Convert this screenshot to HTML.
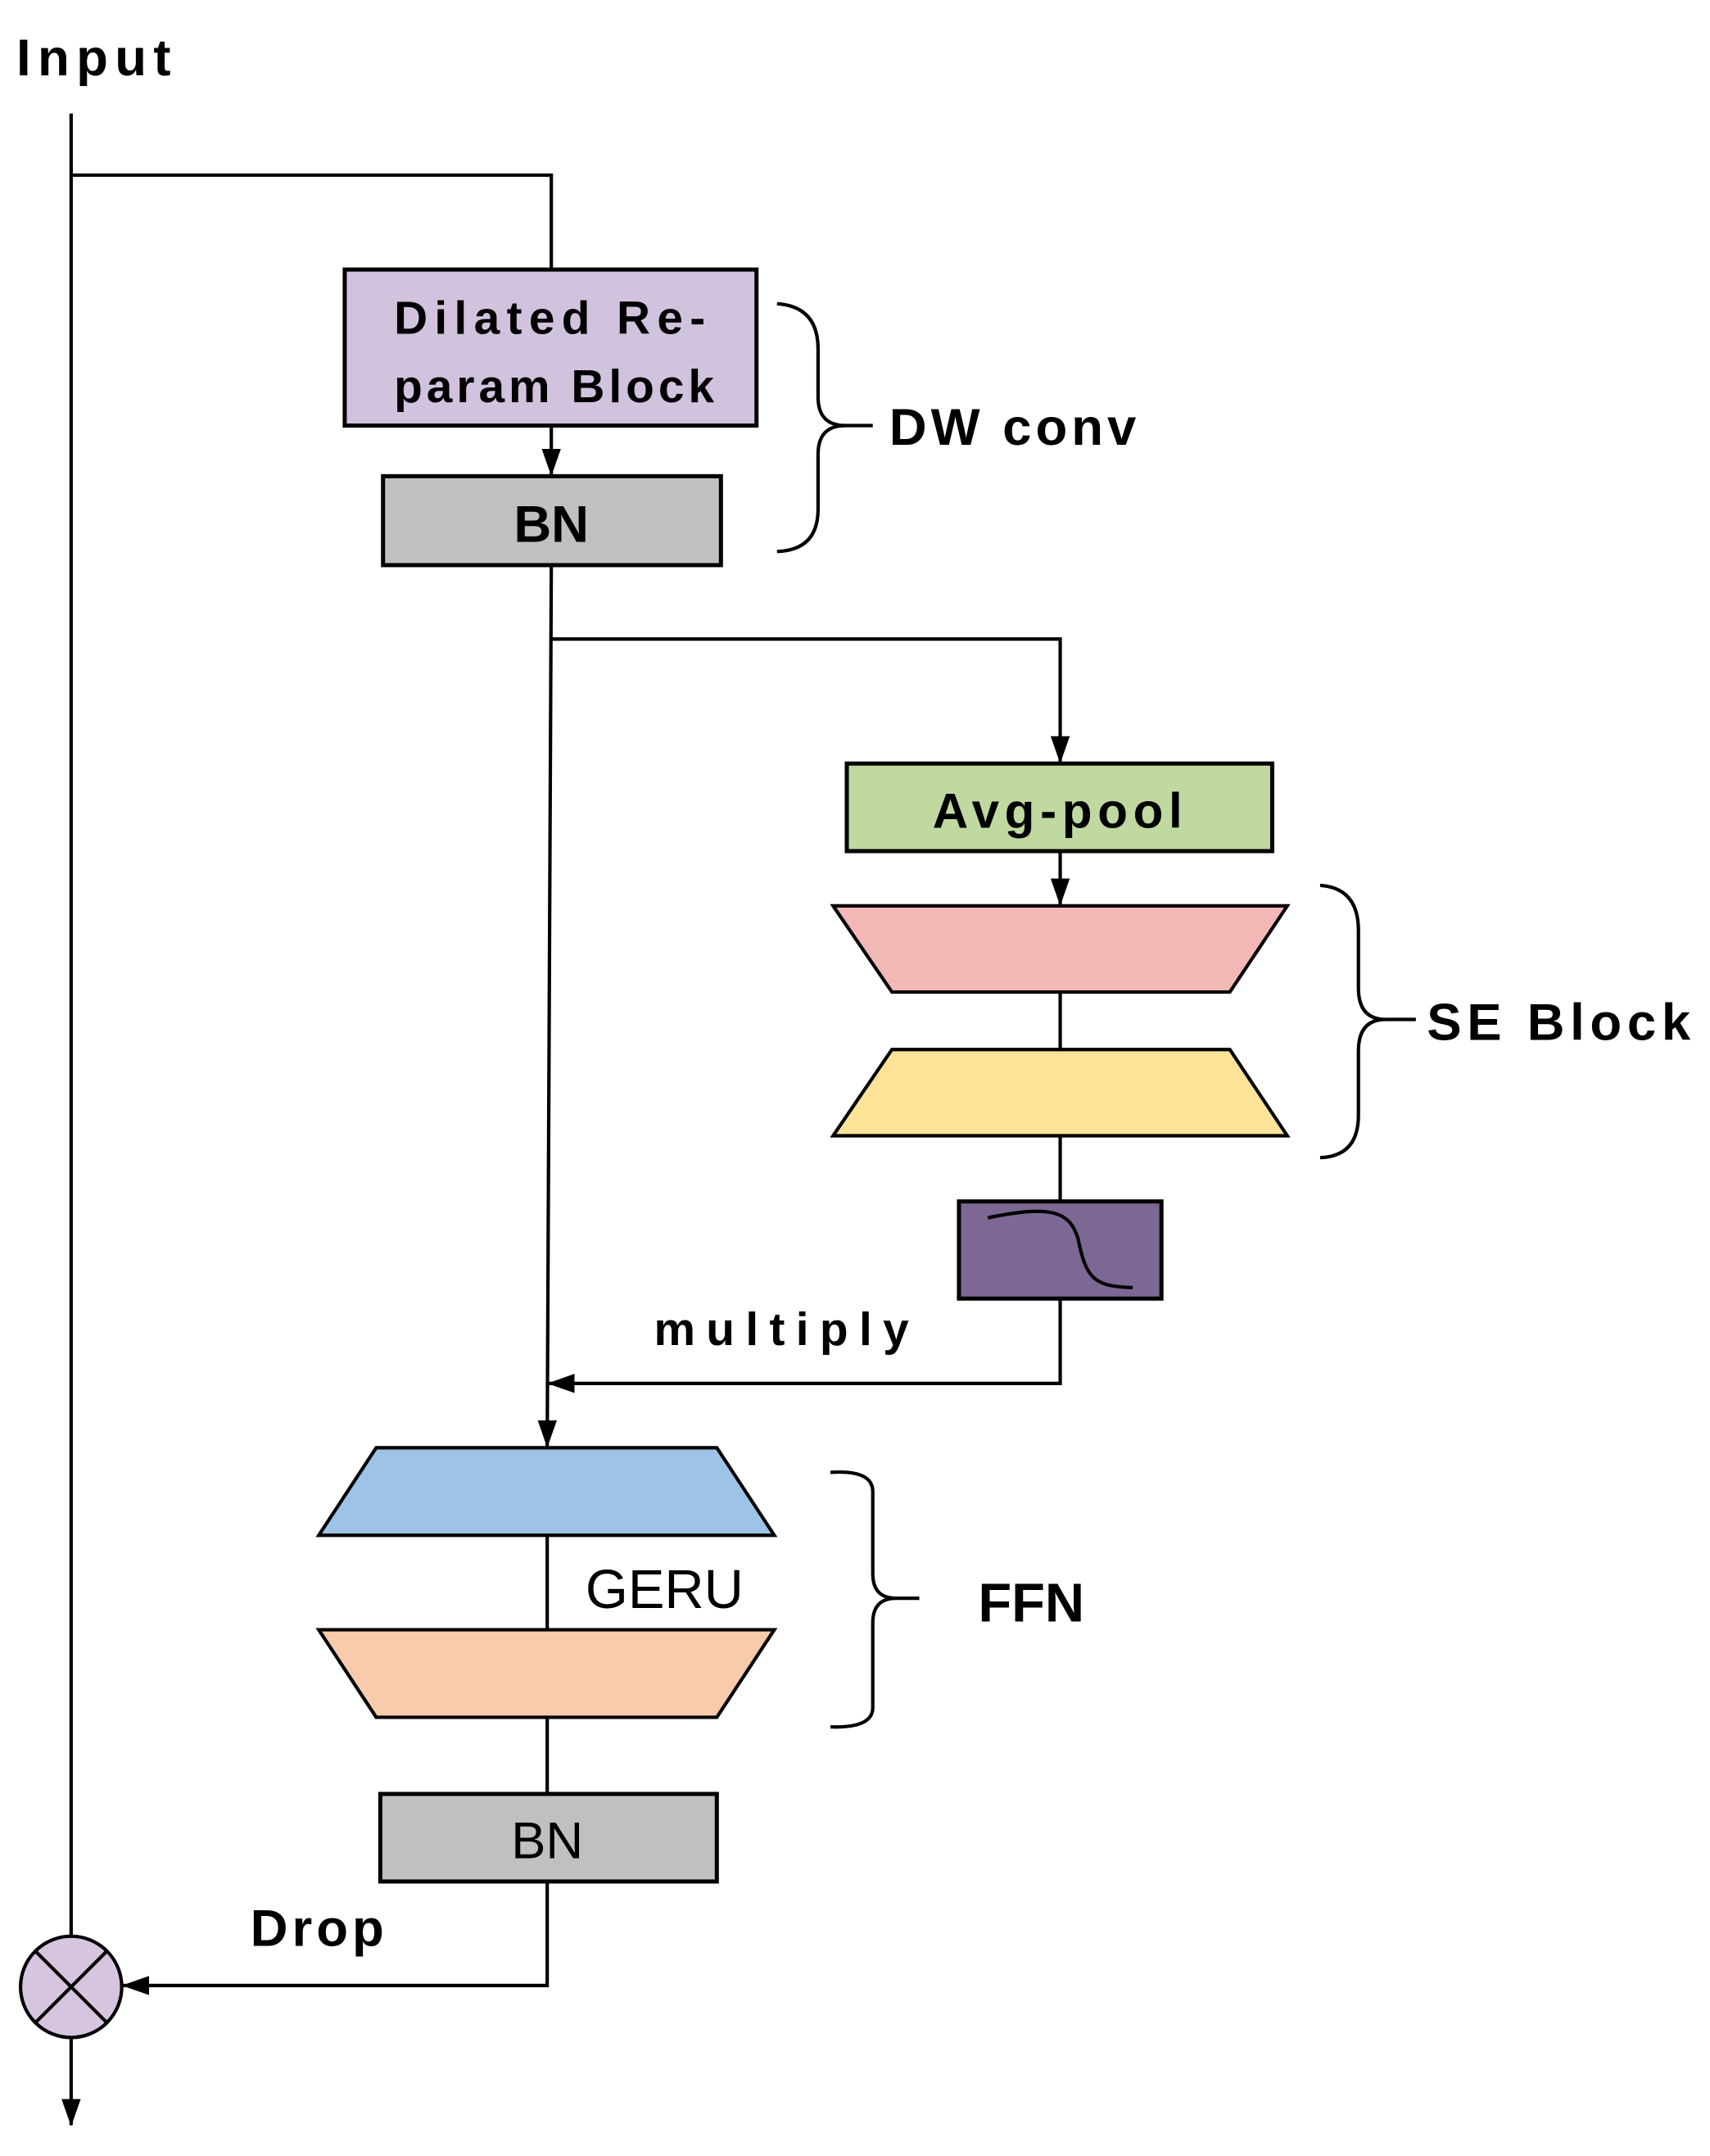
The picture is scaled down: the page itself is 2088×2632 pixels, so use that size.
<!DOCTYPE html>
<html><head><meta charset="utf-8"><style>
html,body{margin:0;padding:0;background:#fff;}
svg{display:block}
text{font-family:"Liberation Sans",sans-serif;fill:#000;}
</style></head><body>
<svg width="2088" height="2632" viewBox="0 0 1250 1575.6" preserveAspectRatio="none" xmlns="http://www.w3.org/2000/svg">
<defs>
<marker id="a" markerWidth="20" markerHeight="14" refX="19" refY="7" orient="auto" markerUnits="userSpaceOnUse" viewBox="0 0 20 14">
<path d="M0,0 L20,7 L0,14 z" fill="#000"/></marker>
</defs>
<g stroke="#000" stroke-width="2.5" fill="none">
<line x1="52" y1="83" x2="52" y2="1415"/>
<polyline points="52,128 403,128 403,197"/>
<line x1="403" y1="311" x2="403" y2="347" marker-end="url(#a)"/>
<line x1="403" y1="413" x2="400" y2="1057" marker-end="url(#a)"/>
<polyline points="403,467 775,467 775,557" marker-end="url(#a)"/>
<line x1="775" y1="622" x2="775" y2="661" marker-end="url(#a)"/>
<line x1="775" y1="725" x2="775" y2="767"/>
<line x1="775" y1="830" x2="775" y2="878"/>
<polyline points="775,949 775,1011 401,1011" marker-end="url(#a)"/>
<line x1="400" y1="1122" x2="400" y2="1191"/>
<line x1="400" y1="1255" x2="400" y2="1311"/>
<polyline points="400,1375 400,1451 90,1451" marker-end="url(#a)"/>
<line x1="52" y1="1489" x2="52" y2="1553" marker-end="url(#a)"/>
<path d="M568,222 Q598,224 598,255 L598,290 Q598,311 618,311 L638,311 M618,311 Q598,311 598,332 L598,372 Q598,402 568,403"/>
<path d="M965,647 Q993,649 993,680 L993,722 Q993,745 1013,745 L1035,745 M1013,745 Q993,745 993,768 L993,815 Q993,845 965,846"/>
<path d="M607,1076 Q638,1074 638,1090 L638,1150 Q638,1168 655,1168 L672,1168 M655,1168 Q638,1168 638,1186 L638,1248 Q638,1263 607,1262"/>
</g>
<rect x="252" y="197" width="301" height="114" fill="#d1c3de" stroke="#000" stroke-width="3"/>
<rect x="280" y="348" width="247" height="65" fill="#c0c0c0" stroke="#000" stroke-width="3"/>
<rect x="619" y="558" width="311" height="64" fill="#bfd9a1" stroke="#000" stroke-width="3"/>
<polygon points="609,662 941,662 899,725 652,725" fill="#f2b8b5" stroke="#000" stroke-width="2.5"/>
<polygon points="652,767 899,767 941,830 609,830" fill="#fde297" stroke="#000" stroke-width="2.5"/>
<rect x="701" y="878" width="148" height="71" fill="#7d6895" stroke="#000" stroke-width="3"/>
<path d="M722,890 C770,880 782,886 788,905 C794,935 800,940 828,941" stroke="#000" stroke-width="2.5" fill="none"/>
<polygon points="275,1058 524,1058 566,1122 233,1122" fill="#9dc3e6" stroke="#000" stroke-width="2.5"/>
<polygon points="233,1191 566,1191 524,1255 275,1255" fill="#f8cbad" stroke="#000" stroke-width="2.5"/>
<rect x="278" y="1311" width="246" height="64" fill="#c0c0c0" stroke="#000" stroke-width="3"/>
<circle cx="52" cy="1452" r="37" fill="#d7c4de" stroke="#000" stroke-width="2.5"/>
<line x1="26" y1="1426" x2="78" y2="1478" stroke="#000" stroke-width="2.5"/>
<line x1="78" y1="1426" x2="26" y2="1478" stroke="#000" stroke-width="2.5"/>
<text x="12" y="55" font-size="38" font-weight="bold" letter-spacing="5">Input</text>
<text x="288" y="244" font-size="34" font-weight="bold" letter-spacing="5">Dilated Re-</text>
<text x="288" y="294" font-size="34" font-weight="bold" letter-spacing="3">param Block</text>
<text x="403" y="396" font-size="38" font-weight="bold" text-anchor="middle">BN</text>
<text x="650" y="325" font-size="38" font-weight="bold" letter-spacing="3">DW conv</text>
<text x="775" y="605" font-size="36" font-weight="bold" text-anchor="middle" letter-spacing="4">Avg-pool</text>
<text x="1043" y="760" font-size="38" font-weight="bold" letter-spacing="4">SE Block</text>
<text x="478" y="983" font-size="34" font-weight="bold" letter-spacing="8">multiply</text>
<text x="428" y="1175" font-size="40">GERU</text>
<text x="715" y="1185" font-size="40" font-weight="bold">FFN</text>
<text x="400" y="1358" font-size="38" text-anchor="middle">BN</text>
<text x="183" y="1422" font-size="38" font-weight="bold" letter-spacing="3">Drop</text>
</svg>
</body></html>
